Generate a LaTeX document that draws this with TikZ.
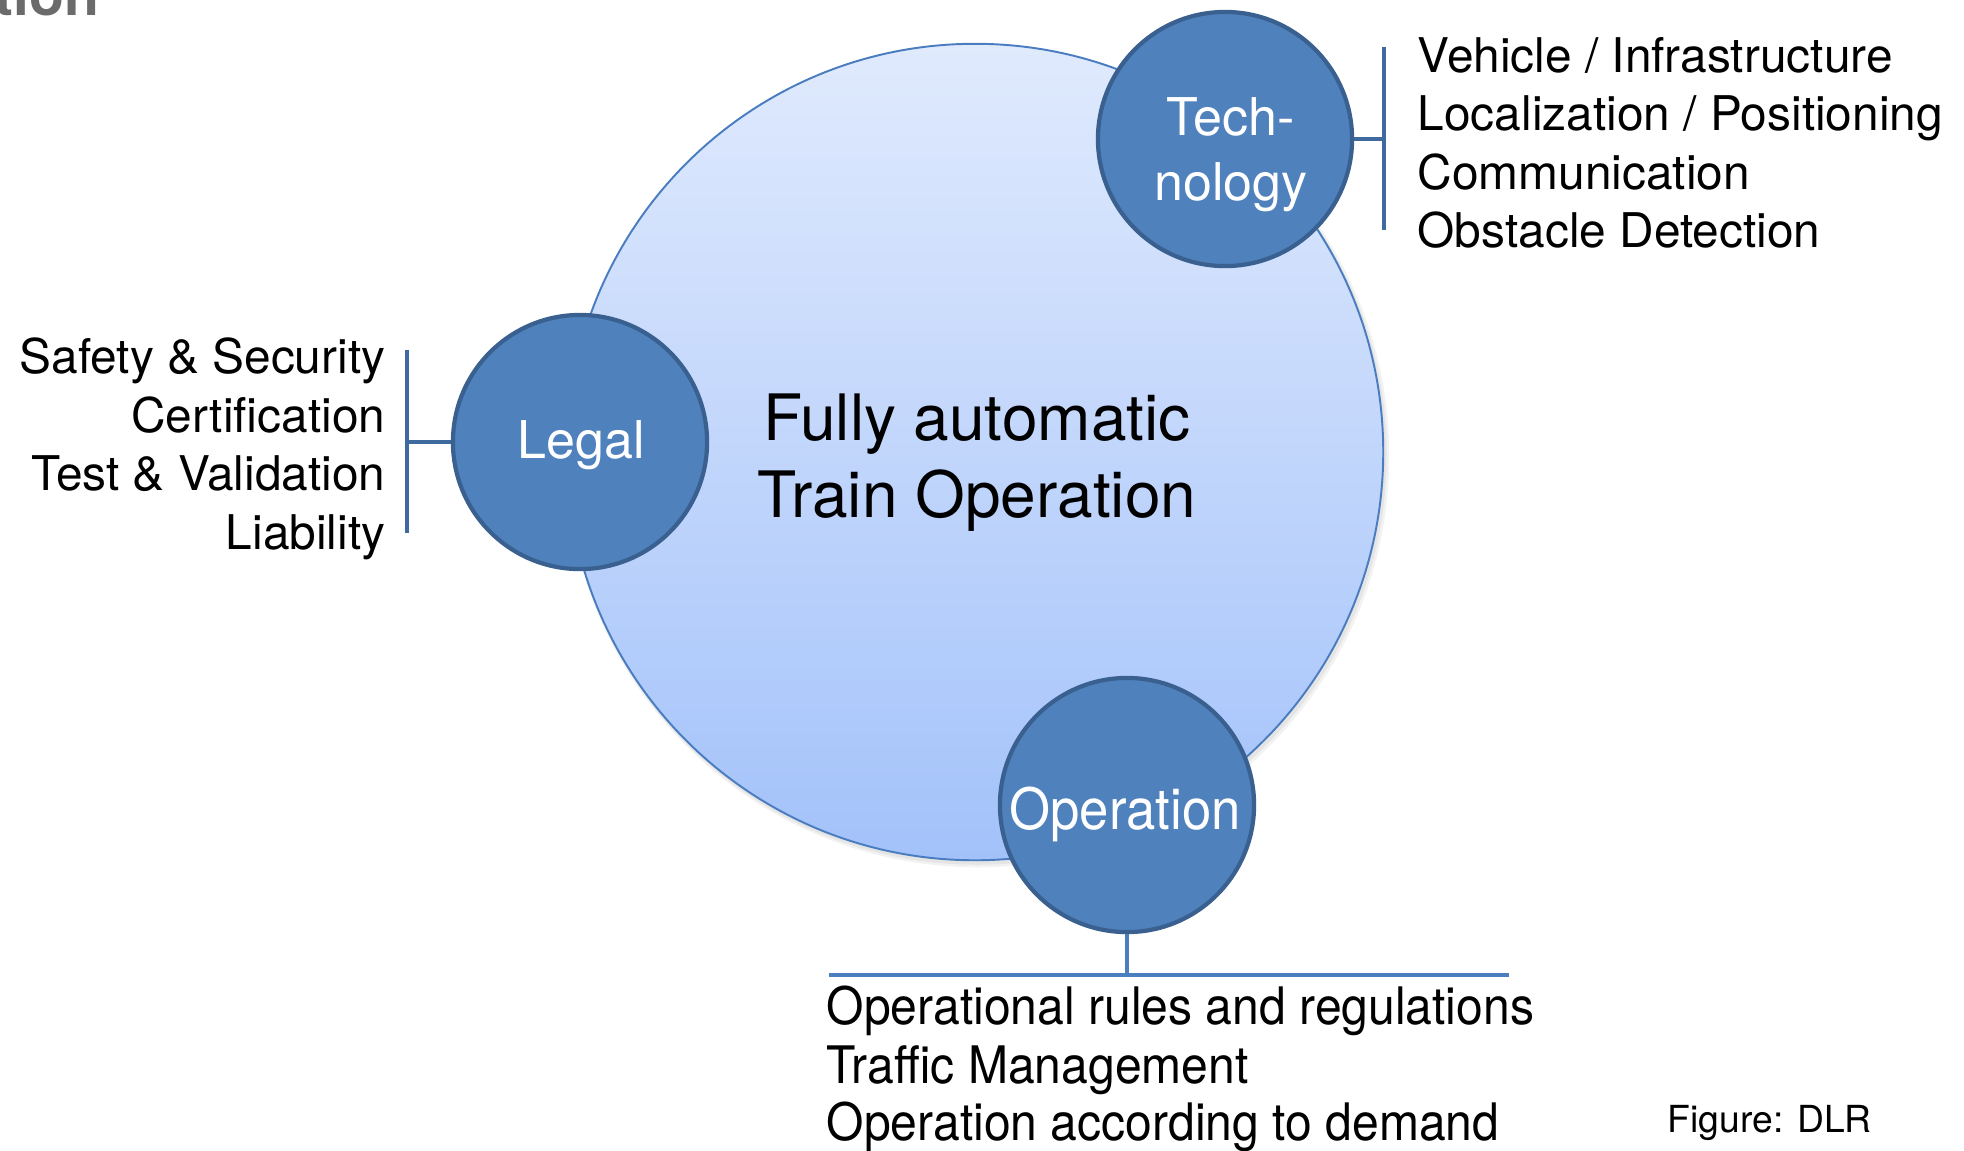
\documentclass[tikz,border=0pt]{standalone}
\usepackage{fontspec}
\usepackage{graphicx}
\setmainfont{TeX Gyre Heros}
\usetikzlibrary{calc}

\definecolor{discfill}{HTML}{4F81BD}
\definecolor{discedge}{HTML}{3A6090}
\definecolor{bigedge}{HTML}{4A7DC0}
\definecolor{bigtop}{HTML}{E0EAFD}
\definecolor{bigbottom}{HTML}{A3C2FA}
\definecolor{bracketline}{HTML}{3F6A9F}
\definecolor{baseline}{HTML}{4A7EBF}
\definecolor{titlegray}{HTML}{6B6B6B}

\begin{document}
\begin{tikzpicture}[x=0.01cm, y=-0.01cm,
  bigdisc/.style={circle, minimum size=8.16cm, inner sep=0pt, draw=bigedge,
    line width=0.55pt, top color=bigtop, bottom color=bigbottom},
  disc/.style={circle, minimum size=2.54cm, inner sep=0pt, fill=discfill,
    draw=discedge, line width=1.2pt},
  disctext/.style={inner sep=0pt, text=white, font=\fontsize{14.8pt}{18pt}\selectfont},
  maintext/.style={inner sep=0pt, anchor=base, font=\fontsize{18.2pt}{22pt}\selectfont},
  itemL/.style={inner sep=0pt, anchor=base east, font=\fontsize{13.6pt}{16pt}\selectfont},
  itemR/.style={inner sep=0pt, anchor=base west, font=\fontsize{13.6pt}{16pt}\selectfont},
  itemO/.style={inner sep=0pt, anchor=base west, font=\fontsize{14.7pt}{17pt}\selectfont},
  bracket/.style={draw=bracketline, line width=1.4pt},
  opline/.style={draw=baseline, line width=1.4pt},
]
\useasboundingbox (0,0) rectangle (1964,1150);
\fill[white] (0,0) rectangle (1964,1150);

% heading, running off the top edge
\node[inner sep=0pt, anchor=base east, text=titlegray,
  font=\fontsize{16.2pt}{19pt}\selectfont\bfseries] (heading) at (100,15) {tion};

% soft shadow under the main disc
\fill[black, opacity=0.05] (978,456) circle[radius=4.11cm];
\fill[black, opacity=0.05] (977,455) circle[radius=4.095cm];

% main disc
\node[bigdisc] (main) at (975,452) {};
\node[maintext] (mainA) at (977,440) {Fully automatic};
\node[maintext] (mainB) at (977,517) {Train Operation};

% brackets and connectors
\coordinate (lgTop) at (407,350);
\coordinate (lgBot) at (407,533);
\coordinate (tcTop) at (1384,47);
\coordinate (tcBot) at (1384,230);
\coordinate (opL) at (829,975);
\coordinate (opR) at (1509,975);

% the three aspect discs
\node[disc] (legal) at (580,442) {};
\node[disc] (tech) at (1225,139) {};
\node[disc] (oper) at (1127,805) {};

\node[disctext, anchor=base] (legalT) at (581,458) {Legal};
\node[disctext, anchor=base] (techA) at (1231,135) {Tech-};
\node[disctext, anchor=base] (techB) at (1231,200) {nology};
\node[disctext, anchor=base] (operT) at (1125,829)
  {\fontsize{16.2pt}{19pt}\selectfont\scalebox{0.925}[1]{Operation}};

\draw[bracket] (lgTop) -- (lgBot);
\draw[bracket] (legal.west) -- (legal.west -| lgTop);
\draw[bracket] (tcTop) -- (tcBot);
\draw[bracket] (tech.east) -- (tech.east -| tcTop);
\draw[opline] (opL) -- (opR);
\draw[opline] (oper.south) -- (oper.south |- opL);

% legal items
\node[itemL] (l1) at (386,373) {Safety \& Security};
\node[itemL] (l2) at (386,432) {Certification};
\node[itemL] (l3) at (386,490) {Test \& Validation};
\node[itemL] (l4) at (386,549) {Liability};

% technology items
\node[itemR] (t1) at (1417,72) {Vehicle / Infrastructure};
\node[itemR] (t2) at (1417,130) {Localization / Positioning};
\node[itemR] (t3) at (1417,189) {Communication};
\node[itemR] (t4) at (1417,247) {Obstacle Detection};

% operation items
\node[itemO] (o1) at (826,1024) {\scalebox{0.93}[1]{Operational rules and regulations}};
\node[itemO] (o2) at (826,1083) {\scalebox{0.93}[1]{Traffic Management}};
\node[itemO] (o3) at (826,1140) {\scalebox{0.93}[1]{Operation according to demand}};

% credit
\node[inner sep=0pt, anchor=base west, font=\fontsize{10.6pt}{13pt}\selectfont]
  (credit) at (1667,1132) {Figure: DLR};
\end{tikzpicture}
\end{document}
